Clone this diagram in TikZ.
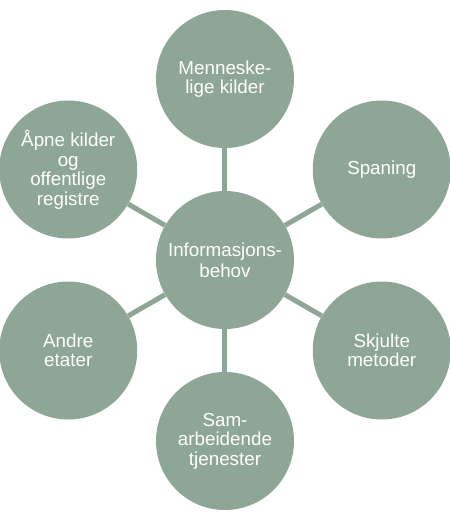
\documentclass[tikz,border=0pt]{standalone}
\usepackage{fontspec}
\setmainfont{Liberation Sans}
\definecolor{sage}{HTML}{8EA696}

\begin{document}
\begin{tikzpicture}[x=1pt, y=1pt]
	\useasboundingbox (-225,-260) rectangle (225,260);
	% Nodes
	\node[circle, fill=sage, minimum size=138pt, inner sep=0pt, text=white, align=center, font=\fontsize{18.8}{21}\selectfont] (behov) at (0,0) {Informasjons-\\behov};
	\foreach \i/\txt in {1/{Menneske-\\lige kilder}, 2/{Spaning}, 3/{Skjulte\\metoder}, 4/{Sam-\\arbeidende\\tjenester}, 5/{Andre\\etater}, 6/{\AA pne kilder\\og\\offentlige\\registre}} {
		\node[circle, fill=sage, minimum size=138pt, inner sep=0pt, text=white, align=center, font=\fontsize{18.8}{19.5}\selectfont] (node\i) at ({90 - 60 * (\i - 1)}:181) {\txt};
	}
	\foreach \i in {1,2,3,4,5,6} {
		\draw[line width=5pt, sage] (behov) -- (node\i);
	}
\end{tikzpicture}
\end{document}
